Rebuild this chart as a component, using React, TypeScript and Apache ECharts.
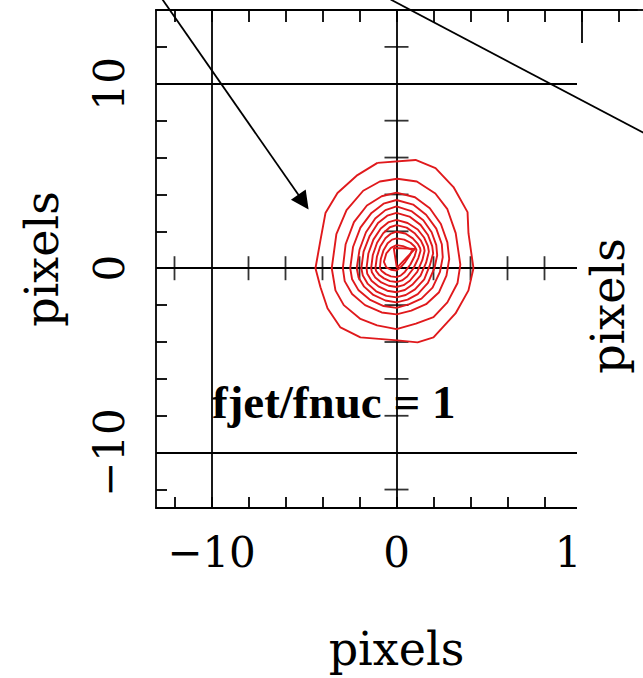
import React, { useEffect, useRef } from 'react';
import * as echarts from 'echarts';

// ---- data (in plot units: pixels) ----
const xMin = -13;
const xMax = 13;
const yMin = -13;
const yMax = 14;
const edgeTicks = [-12, -10, -8, -6, -4, -2, 0, 2, 4, 6, 8, 10, 12];
const crossTicks = [-12, -8, -6, -4, -2, 2, 4, 6, 8, 12];
const gridValues = [-10, 0, 10];
const tickLabels = [-10, 0, 10];
const axisTitle = 'pixels';
const annotation = 'fjet/fnuc = 1';

const c1 = [[-1.03,5.71],[1.03,5.87],[2.11,5.43],[3.08,4.4],[3.84,3.04],[3.89,1.9],[4.16,0],[3.89,-1.2],[3.19,-2.45],[2.0,-3.75],[1.14,-4.02],[0.05,-3.91],[-1.95,-3.75],[-3.03,-3.21],[-3.73,-2.17],[-4.11,-1.03],[-4.38,0],[-4.11,1.52],[-3.84,2.99],[-3.19,4.08],[-2.11,5.05]];
const c2 = [[0.04,4.85],[1.1,4.7],[2.1,4.05],[2.75,3.2],[3.2,1.9],[3.45,0.2],[3.3,-0.8],[2.75,-1.85],[2.0,-2.65],[1.05,-3.0],[0,-3.3],[-1.05,-3.1],[-1.95,-2.75],[-2.85,-2.0],[-3.3,-1.2],[-3.5,0],[-3.25,1.85],[-2.7,3.15],[-1.8,4.2],[-0.9,4.7]];
const c3 = [[0,4.1],[1.0,3.85],[1.8,3.25],[2.4,2.4],[2.75,1.4],[2.85,0.5],[2.7,-0.4],[2.3,-1.3],[1.6,-1.95],[0.8,-2.3],[0,-2.5],[-0.8,-2.4],[-1.7,-2.0],[-2.4,-1.4],[-2.8,-0.7],[-2.9,0],[-2.75,1.3],[-2.3,2.5],[-1.6,3.4],[-0.8,3.9]];
const c4 = [[0,3.7],[0.9,3.45],[1.6,2.9],[2.15,2.15],[2.45,1.3],[2.5,0.6],[2.35,-0.2],[1.95,-1.05],[1.35,-1.65],[0.7,-1.95],[0,-2.15],[-0.7,-2.05],[-1.45,-1.7],[-2.05,-1.2],[-2.4,-0.6],[-2.5,0],[-2.35,1.15],[-1.95,2.2],[-1.35,3.0],[-0.7,3.5]];
const c5 = [[0,3.35],[0.8,3.1],[1.45,2.6],[1.9,1.95],[2.15,1.25],[2.2,0.7],[2.05,0],[1.7,-0.8],[1.15,-1.4],[0.6,-1.7],[0,-1.85],[-0.6,-1.75],[-1.25,-1.45],[-1.75,-1.0],[-2.05,-0.5],[-2.15,0],[-2.0,1.0],[-1.65,1.95],[-1.15,2.7],[-0.6,3.15]];
const c6 = [[0,3.0],[0.7,2.8],[1.3,2.35],[1.7,1.8],[1.93,1.2],[1.98,0.8],[1.8,0.15],[1.5,-0.6],[1.0,-1.15],[0.5,-1.45],[0,-1.58],[-0.55,-1.5],[-1.1,-1.25],[-1.55,-0.85],[-1.82,-0.4],[-1.9,0],[-1.78,0.9],[-1.45,1.75],[-1.0,2.45],[-0.5,2.85]];
const c7 = [[0,2.62],[0.6,2.45],[1.15,2.1],[1.5,1.65],[1.7,1.2],[1.75,0.9],[1.6,0.3],[1.3,-0.4],[0.85,-0.9],[0.45,-1.18],[0,-1.3],[-0.5,-1.22],[-0.95,-1.0],[-1.35,-0.68],[-1.58,-0.3],[-1.62,0],[-1.52,0.8],[-1.25,1.55],[-0.85,2.15],[-0.42,2.5]];
const c8 = [[0,2.34],[0.55,2.2],[1.0,1.88],[1.32,1.5],[1.48,1.15],[1.52,0.95],[1.4,0.45],[1.12,-0.2],[0.72,-0.68],[0.38,-0.92],[0,-1.02],[-0.42,-0.95],[-0.82,-0.77],[-1.15,-0.5],[-1.33,-0.22],[-1.37,0],[-1.28,0.72],[-1.05,1.38],[-0.72,1.9],[-0.36,2.22]];
const c9 = [[0,1.98],[0.48,1.88],[0.88,1.62],[1.15,1.32],[1.28,1.08],[1.3,0.95],[1.18,0.55],[0.92,0.0],[0.58,-0.45],[0.3,-0.66],[0,-0.75],[-0.35,-0.7],[-0.68,-0.55],[-0.95,-0.35],[-1.1,-0.15],[-1.14,0],[-1.06,0.62],[-0.88,1.18],[-0.6,1.62],[-0.3,1.88]];
const c10 = [[0,1.62],[0.42,1.55],[0.76,1.38],[0.98,1.18],[1.08,1.0],[0.98,0.65],[0.75,0.2],[0.45,-0.2],[0.22,-0.4],[0,-0.48],[-0.3,-0.44],[-0.58,-0.32],[-0.8,-0.15],[-0.9,0],[-0.85,0.5],[-0.7,0.98],[-0.48,1.35],[-0.24,1.55]];
const c11 = [[0,1.25],[0.35,1.2],[0.65,1.08],[0.85,1.0],[0.72,0.7],[0.48,0.35],[0.22,0.05],[0,-0.12],[-0.3,-0.08],[-0.55,0.05],[-0.68,0.35],[-0.55,0.8],[-0.3,1.1]];
const c12 = [[-0.15,1.1],[1.0,1.05],[0.02,0.02]];
const contours = [c1, c2, c3, c4, c5, c6, c7, c8, c9, c10, c11, c12];

const arrowLine = [[-12.65, 14.57], [-5.03, 3.59]];
const plainLine = [[-0.32, 14.57], [13.35, 7.34]];

const RED = '#e0191c';
const BLACK = '#000';
const LW = 1.8;
const FONT = "'DejaVu Serif', serif";

function fmt(v: number) {
  return v < 0 ? '\u2212' + Math.abs(v) : String(v);
}

export default function App() {
  const ref = useRef<HTMLDivElement>(null);
  useEffect(() => {
    if (!ref.current) return;
    const chart = echarts.init(ref.current, null, { renderer: 'svg' });
    const closed = (c: number[][]) => c.concat([c[0]]);
    const series: any[] = contours.map((c, i) => ({
      type: 'line',
      name: 'contour' + (i + 1),
      data: closed(c),
      symbol: 'none',
      smooth: false,
      silent: true,
      z: 10,
      lineStyle: { color: RED, width: 1.9 },
    }));
    series.push({
      type: 'scatter',
      data: crossTicks.map((v) => [v, 0]),
      symbol: 'rect',
      symbolSize: [LW, 24],
      itemStyle: { color: BLACK },
      silent: true,
      z: 5,
      markLine: {
        silent: true,
        symbol: ['none', 'none'],
        label: { show: false },
        lineStyle: { color: BLACK, width: LW, type: 'solid' },
        data: [
          ...gridValues.map((v) => ({ xAxis: v })),
          ...gridValues.map((v) => ({ yAxis: v })),
        ],
      },
    });
    series.push({
      type: 'scatter',
      data: crossTicks.map((v) => [0, v]),
      symbol: 'rect',
      symbolSize: [24, LW],
      itemStyle: { color: BLACK },
      silent: true,
      z: 5,
    });
    series.push({
      type: 'lines',
      coordinateSystem: 'cartesian2d',
      data: [{ coords: arrowLine }],
      symbol: ['none', 'triangle'],
      symbolSize: [12, 18],
      lineStyle: { color: BLACK, width: LW, opacity: 1 },
      clip: false,
      silent: true,
      z: 200,
    });
    series.push({
      type: 'lines',
      coordinateSystem: 'cartesian2d',
      data: [{ coords: plainLine }],
      symbol: ['none', 'none'],
      lineStyle: { color: BLACK, width: LW, opacity: 1 },
      clip: false,
      silent: true,
      z: 200,
    });

    const axisCommon = {
      type: 'value',
      splitLine: { show: false },
      axisLine: { show: true, onZero: false, lineStyle: { color: BLACK, width: LW } },
    };

    chart.setOption({
      animation: false,
      backgroundColor: '#fff',
      grid: { left: 156, top: 10, width: 481, height: 498, containLabel: false, outerBoundsMode: 'none' },
      xAxis: [
        {
          ...axisCommon,
          position: 'bottom',
          min: xMin,
          max: xMax,
          axisTick: { show: true, inside: true, length: 11, customValues: edgeTicks, lineStyle: { color: BLACK, width: LW } },
          axisLabel: { show: true, customValues: tickLabels, formatter: fmt, margin: 23, color: BLACK, fontFamily: FONT, fontSize: 42 },
          name: axisTitle,
          nameLocation: 'middle',
          nameGap: 118,
          nameTextStyle: { color: BLACK, fontFamily: FONT, fontSize: 46 },
        },
        {
          ...axisCommon,
          position: 'top',
          min: xMin,
          max: xMax,
          axisTick: { show: true, inside: true, length: 12, customValues: edgeTicks, lineStyle: { color: BLACK, width: LW } },
          axisLabel: { show: false },
        },
      ],
      yAxis: [
        {
          ...axisCommon,
          position: 'left',
          min: yMin,
          max: yMax,
          axisTick: { show: true, inside: true, length: 11, customValues: edgeTicks, lineStyle: { color: BLACK, width: LW } },
          axisLabel: { show: true, customValues: tickLabels, formatter: fmt, rotate: 90, margin: 26, color: BLACK, fontFamily: FONT, fontSize: 42 },
          name: axisTitle,
          nameLocation: 'middle',
          nameRotate: 90,
          nameGap: 91,
          nameTextStyle: { color: BLACK, fontFamily: FONT, fontSize: 46 },
        },
      ],
      series,
      graphic: [
        { type: 'rect', z: 100, silent: true, shape: { x: 577, y: 43, width: 70, height: 640 }, style: { fill: '#fff' } },
        { type: 'line', z: 110, silent: true, shape: { x1: 636, y1: 10, x2: 643, y2: 10 }, style: { stroke: BLACK, lineWidth: LW } },
        {
          type: 'text', z: 110, silent: true, x: 608, y: 306, rotation: Math.PI / 2,
          style: { text: axisTitle, font: `46px ${FONT}`, fill: BLACK, align: 'center', verticalAlign: 'middle' },
        },
        {
          type: 'text', z: 120, silent: true, x: 212, y: 402,
          style: { text: annotation, font: "bold 47px 'Liberation Serif', serif", fill: BLACK, align: 'left', verticalAlign: 'middle' },
        },
      ],
    });
    return () => chart.dispose();
  }, []);
  return <div ref={ref} style={{ position: 'fixed', left: 0, top: 0, width: 643, height: 678 }} />;
}
